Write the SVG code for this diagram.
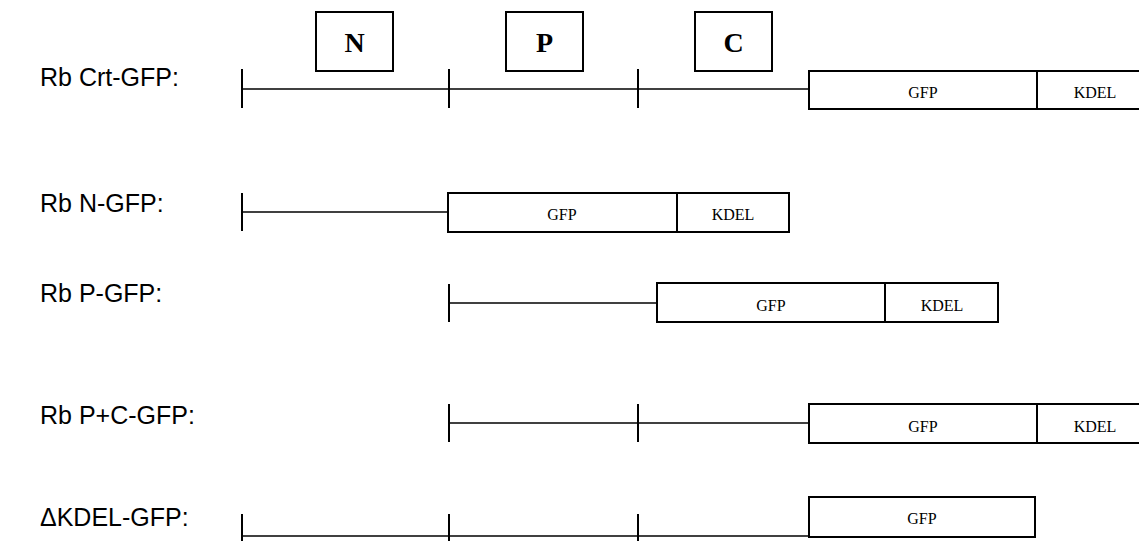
<svg xmlns="http://www.w3.org/2000/svg" width="1139" height="541" viewBox="0 0 1139 541">
<style>
.lbl{font-family:"Liberation Sans",Arial,sans-serif;font-size:25px;fill:#000}
.dom{font-family:"Liberation Serif","Times New Roman",serif;font-size:28px;font-weight:bold;fill:#000;text-anchor:middle}
.bx{fill:#fff;stroke:#000;stroke-width:2}
.t{font-family:"Liberation Serif","Times New Roman",serif;font-size:16px;fill:#000;text-anchor:middle}
.ln{stroke:#000;stroke-width:1.6;fill:none}
.tk{stroke:#000;stroke-width:2;fill:none}
</style>
<rect width="1139" height="541" fill="#fff"/>
<g id="domain-N"><rect class="bx" x="316" y="12" width="77" height="59"/><text class="dom" x="354.5" y="52">N</text></g>
<g id="domain-P"><rect class="bx" x="506" y="12" width="77" height="59"/><text class="dom" x="544.5" y="52">P</text></g>
<g id="domain-C"><rect class="bx" x="695" y="12" width="77" height="59"/><text class="dom" x="733.5" y="52">C</text></g>

<g id="row1">
<text class="lbl" x="40" y="86">Rb Crt-GFP:</text>
<g class="connectors"><line class="ln" x1="242" y1="89" x2="809" y2="89"/><line class="tk" x1="242" y1="69" x2="242" y2="108"/><line class="tk" x1="449" y1="69" x2="449" y2="108"/><line class="tk" x1="638" y1="69" x2="638" y2="108"/></g>
<rect class="bx" x="809" y="71" width="340" height="38"/><line class="tk" x1="1037" y1="71" x2="1037" y2="109"/>
<text class="t" x="923" y="98">GFP</text><text class="t" x="1095" y="98">KDEL</text>
</g>

<g id="row2">
<text class="lbl" x="40" y="212">Rb N-GFP:</text>
<line class="ln" x1="242" y1="212" x2="448" y2="212"/><line class="tk" x1="242" y1="193" x2="242" y2="231"/>
<rect class="bx" x="448" y="193" width="341" height="39"/><line class="tk" x1="677" y1="193" x2="677" y2="232"/>
<text class="t" x="562" y="220">GFP</text><text class="t" x="733" y="220">KDEL</text>
</g>

<g id="row3">
<text class="lbl" x="40" y="302">Rb P-GFP:</text>
<line class="ln" x1="449" y1="303" x2="657" y2="303"/><line class="tk" x1="449" y1="284" x2="449" y2="322"/>
<rect class="bx" x="657" y="283" width="341" height="39"/><line class="tk" x1="885" y1="283" x2="885" y2="322"/>
<text class="t" x="771" y="311">GFP</text><text class="t" x="942" y="311">KDEL</text>
</g>

<g id="row4">
<text class="lbl" x="40" y="424">Rb P+C-GFP:</text>
<line class="ln" x1="449" y1="423" x2="809" y2="423"/><line class="tk" x1="449" y1="404" x2="449" y2="442"/><line class="tk" x1="638" y1="404" x2="638" y2="442"/>
<rect class="bx" x="809" y="404" width="340" height="39"/><line class="tk" x1="1037" y1="404" x2="1037" y2="443"/>
<text class="t" x="923" y="432">GFP</text><text class="t" x="1095" y="432">KDEL</text>
</g>

<g id="row5">
<text class="lbl" x="40" y="526">ΔKDEL-GFP:</text>
<line class="ln" x1="242" y1="536" x2="809" y2="536"/><line class="tk" x1="242" y1="514" x2="242" y2="541"/><line class="tk" x1="449" y1="514" x2="449" y2="541"/><line class="tk" x1="638" y1="514" x2="638" y2="541"/>
<rect class="bx" x="809" y="497" width="226" height="40"/>
<text class="t" x="922" y="524">GFP</text>
</g>
</svg>
